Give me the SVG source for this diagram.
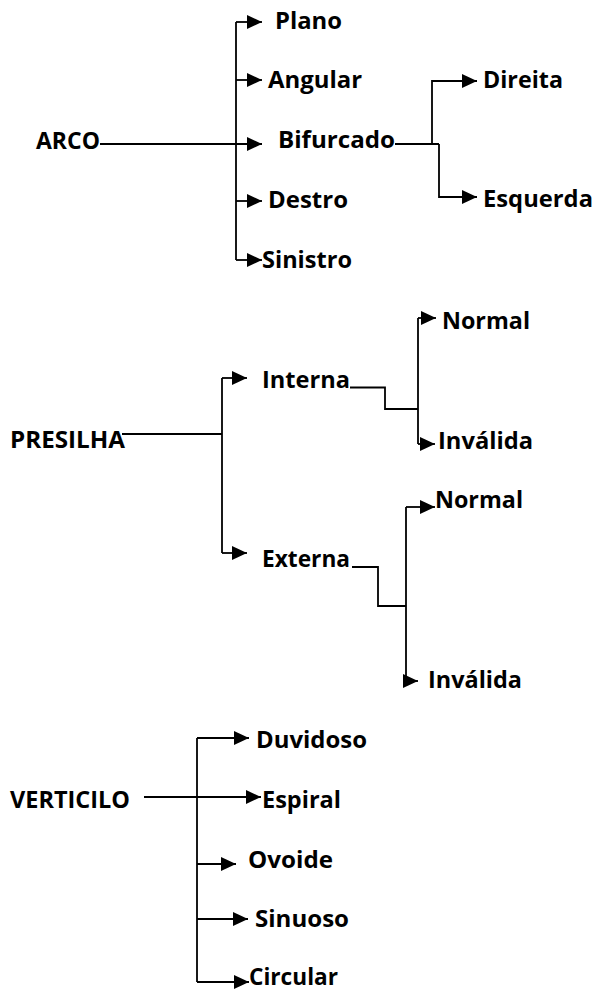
<svg xmlns="http://www.w3.org/2000/svg" width="596" height="992" viewBox="0 0 596 992">
<style>
  text { font-family: "Open Sans", "Liberation Sans", sans-serif; font-weight: bold; font-size: 22.5px; fill: #000; }
  .c { fill: none; stroke: #000; stroke-width: 1.8; }
  .a { marker-end: url(#ah); }
</style>
<defs>
  <marker id="ah" markerUnits="userSpaceOnUse" markerWidth="16" markerHeight="14" refX="15" refY="7" orient="auto">
    <path d="M0,0 L15,7 L0,14 z" fill="#000"/>
  </marker>
</defs>
<rect width="596" height="992" fill="#fff"/>
<g id="connectors">
  <path class="c" d="M236,22 V260"/>
  <path class="c a" d="M236,22 H262"/>
  <path class="c a" d="M236,80 H262"/>
  <path class="c a" d="M100,144 H262"/>
  <path class="c a" d="M236,201 H262"/>
  <path class="c a" d="M236,260 H262"/>
  <path class="c" d="M395,144 H439"/>
  <path class="c a" d="M432,144 V81 H477"/>
  <path class="c a" d="M439,144 V197 H477"/>
  <path class="c" d="M122,434 H222"/>
  <path class="c" d="M222,378 V553"/>
  <path class="c a" d="M222,378 H247"/>
  <path class="c a" d="M222,553 H247"/>
  <path class="c" d="M350,387.5 H385 V409 H418"/>
  <path class="c" d="M418,318 V444"/>
  <path class="c a" d="M418,318 H436"/>
  <path class="c a" d="M418,444 H435"/>
  <path class="c" d="M352,567 H378 V606 H406"/>
  <path class="c" d="M406,507 V681"/>
  <path class="c a" d="M406,507 H435"/>
  <path class="c a" d="M403,681 H418"/>
  <path class="c a" d="M144,797 H261"/>
  <path class="c" d="M197,738 V982"/>
  <path class="c a" d="M197,738 H249"/>
  <path class="c a" d="M197,864 H236"/>
  <path class="c a" d="M197,919 H248"/>
  <path class="c a" d="M197,982 H249"/>
</g>
<g id="arco"><text x="36" y="149" textLength="64" lengthAdjust="spacingAndGlyphs">ARCO</text></g>
<g id="plano"><text x="275" y="29" textLength="67" lengthAdjust="spacingAndGlyphs">Plano</text></g>
<g id="angular"><text x="268" y="88" textLength="94" lengthAdjust="spacingAndGlyphs">Angular</text></g>
<g id="bifurcado"><text x="278" y="148" textLength="117" lengthAdjust="spacingAndGlyphs">Bifurcado</text></g>
<g id="destro"><text x="268" y="208" textLength="80" lengthAdjust="spacingAndGlyphs">Destro</text></g>
<g id="sinistro"><text x="262" y="268" textLength="90" lengthAdjust="spacingAndGlyphs">Sinistro</text></g>
<g id="direita"><text x="483" y="88" textLength="80" lengthAdjust="spacingAndGlyphs">Direita</text></g>
<g id="esquerda"><text x="483" y="207" textLength="110" lengthAdjust="spacingAndGlyphs">Esquerda</text></g>
<g id="presilha"><text x="10" y="448" textLength="115" lengthAdjust="spacingAndGlyphs">PRESILHA</text></g>
<g id="interna"><text x="262" y="388" textLength="88" lengthAdjust="spacingAndGlyphs">Interna</text></g>
<g id="externa"><text x="262" y="567" textLength="88" lengthAdjust="spacingAndGlyphs">Externa</text></g>
<g id="normal-int"><text x="442" y="329" textLength="88" lengthAdjust="spacingAndGlyphs">Normal</text></g>
<g id="invalida-int"><text x="438" y="449" textLength="95" lengthAdjust="spacingAndGlyphs">Inválida</text></g>
<g id="normal-ext"><text x="435" y="508" textLength="88" lengthAdjust="spacingAndGlyphs">Normal</text></g>
<g id="invalida-ext"><text x="428" y="688" textLength="94" lengthAdjust="spacingAndGlyphs">Inválida</text></g>
<g id="verticilo"><text x="10" y="808" textLength="120" lengthAdjust="spacingAndGlyphs">VERTICILO</text></g>
<g id="duvidoso"><text x="256" y="748" textLength="111" lengthAdjust="spacingAndGlyphs">Duvidoso</text></g>
<g id="espiral"><text x="262" y="808" textLength="79" lengthAdjust="spacingAndGlyphs">Espiral</text></g>
<g id="ovoide"><text x="248" y="868" textLength="85" lengthAdjust="spacingAndGlyphs">Ovoide</text></g>
<g id="sinuoso"><text x="255" y="927" textLength="94" lengthAdjust="spacingAndGlyphs">Sinuoso</text></g>
<g id="circular"><text x="249" y="985" textLength="89" lengthAdjust="spacingAndGlyphs">Circular</text></g>
</svg>
